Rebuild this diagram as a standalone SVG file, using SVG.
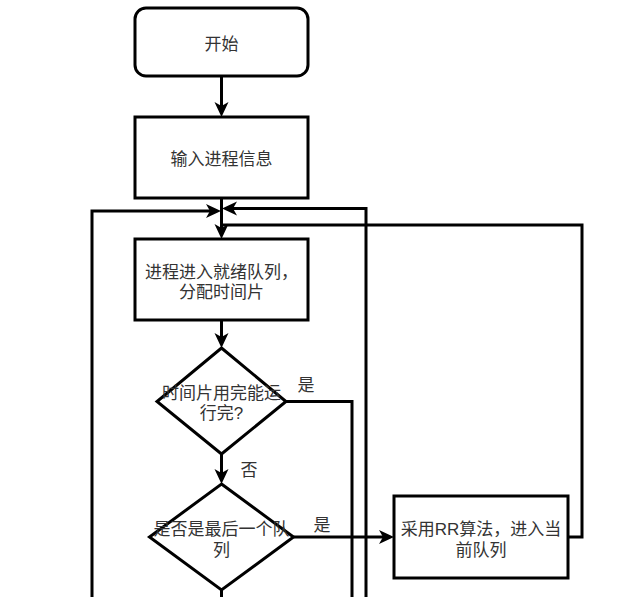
<svg xmlns="http://www.w3.org/2000/svg" width="632" height="597" viewBox="0 0 632 597">
<style>
.shape{fill:#fff;stroke:#000;stroke-width:3}
.edge{fill:none;stroke:#000;stroke-width:3}
.t{font-family:"Liberation Sans","Noto Sans CJK SC",sans-serif;font-size:17px;fill:#333;text-anchor:middle;dominant-baseline:central}
</style>
<defs>
<marker id="arr" viewBox="0 0 16 16" refX="4" refY="8" markerWidth="16" markerHeight="16" markerUnits="userSpaceOnUse" orient="auto">
<path d="M0,1 L15,8 L0,15 L4,8 Z" fill="#000"/>
</marker>
</defs>
<rect width="632" height="597" fill="#fff"/>
<g id="connectors">
<path class="edge" d="M221.5,76 V106" marker-end="url(#arr)"/>
<path class="edge" d="M221.5,198 V228" marker-end="url(#arr)"/>
<path class="edge" d="M221.5,320 V337" marker-end="url(#arr)"/>
<path class="edge" d="M221.5,454 V473" marker-end="url(#arr)"/>
<path class="edge" d="M293.5,537 H383" marker-end="url(#arr)"/>
<path class="edge" d="M286,401.5 H352 V600"/>
<path class="edge" d="M221.5,590 V600"/>
<path class="edge" d="M92,600 V211 H210" marker-end="url(#arr)"/>
<path class="edge" d="M366,600 V208.5 H233" marker-end="url(#arr)"/>
<path class="edge" d="M568,537 H582 V225 H221.5"/>
<text class="t" x="306" y="385">是</text>
<text class="t" x="249" y="470">否</text>
<text class="t" x="322" y="525">是</text>
</g>
<g id="start">
<rect class="shape" x="135" y="8" width="173" height="68" rx="11"/>
<text class="t" x="221.5" y="44">开始</text>
</g>
<g id="input">
<rect class="shape" x="135" y="117" width="173" height="81"/>
<text class="t" x="221.5" y="159">输入进程信息</text>
</g>
<g id="ready">
<rect class="shape" x="135" y="239" width="173" height="81"/>
<text class="t" x="221.5" y="272">进程进入就绪队列，<tspan x="221.5" dy="20">分配时间片</tspan></text>
</g>
<g id="check1">
<polygon class="shape" points="221.5,348 286,401.5 221.5,454 157,401.5"/>
<text class="t" x="221.5" y="393">时间片用完能运<tspan x="221.5" dy="20">行完?</tspan></text>
</g>
<g id="check2">
<polygon class="shape" points="221.5,484 293.5,537 221.5,590 149.5,537"/>
<text class="t" x="221.5" y="529.5">是否是最后一个队<tspan x="221.5" dy="20">列</tspan></text>
</g>
<g id="rr">
<rect class="shape" x="394" y="496" width="174" height="82"/>
<text class="t" x="481" y="529.5">采用RR算法，进入当<tspan x="481" dy="20">前队列</tspan></text>
</g>
</svg>
